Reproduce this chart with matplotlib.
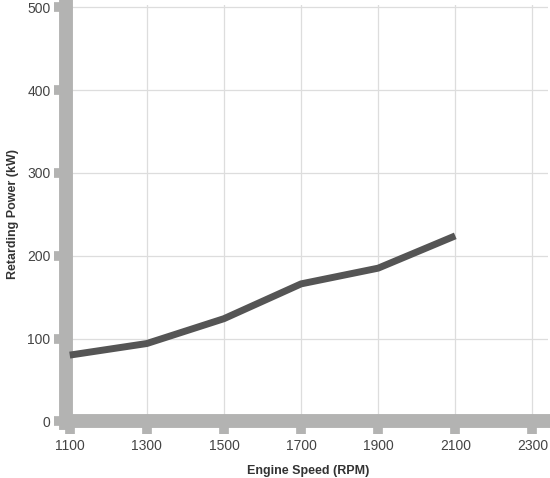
import matplotlib
matplotlib.use('Agg')
import matplotlib.pyplot as plt

plt.rcParams['font.family'] = ['Liberation Sans', 'DejaVu Sans']

rpm = [1100, 1300, 1500, 1700, 1900, 2100]
power = [80, 94, 124, 166, 185, 224]
xticks = [1100, 1300, 1500, 1700, 1900, 2100, 2300]
yticks = [0, 100, 200, 300, 400, 500]

spine_col = '#b3b3b2'
fig = plt.figure(figsize=(5.5, 4.78), dpi=100)
ax = fig.add_axes([0.124, 0.115, 0.872, 0.875])
ax.plot(rpm, power, color='#555555', lw=5, solid_capstyle='butt', zorder=3)

ax.set_xlim(1096, 2340)
ax.set_ylim(-2, 503)
ax.set_xticks(xticks)
ax.set_yticks(yticks)
ax.grid(True, color='#dddddd', lw=0.9)
for s in ['top', 'right']:
    ax.spines[s].set_visible(False)
for s in ['left', 'bottom']:
    ax.spines[s].set_color(spine_col)
    ax.spines[s].set_linewidth(10)
ax.spines['left'].set_position(('data', 1090))
ax.spines['bottom'].set_position(('data', 0))
ax.tick_params(colors=spine_col, width=7, length=9, labelcolor='#444444',
               labelsize=10)
ax.tick_params(axis='x', pad=4)
ax.tick_params(axis='y', pad=2)
ax.set_xlabel('Engine Speed (RPM)', fontsize=9, fontweight='bold',
              color='#333333', labelpad=8)
ax.set_ylabel('Retarding Power (kW)', fontsize=9, fontweight='bold',
              color='#333333', labelpad=6)
fig.savefig('out.png', dpi=100)
